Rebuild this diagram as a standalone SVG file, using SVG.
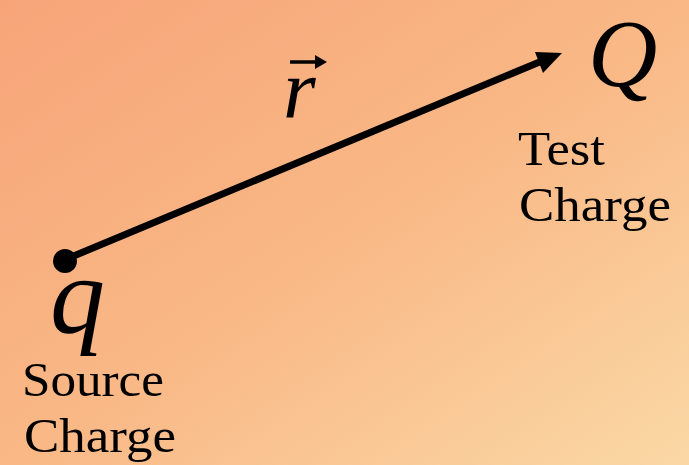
<svg xmlns="http://www.w3.org/2000/svg" width="689" height="465" viewBox="0 0 689 465">
<defs>
<linearGradient id="bg" x1="0" y1="0" x2="1" y2="1">
<stop offset="0" stop-color="#F7A479"/>
<stop offset="0.5" stop-color="#F9B886"/>
<stop offset="1" stop-color="#FAD8A5"/>
</linearGradient>
<style>
.lbl{font-family:'Liberation Serif',serif;fill:#000;font-size:48px}
.sym{font-family:'Liberation Serif',serif;font-style:italic;fill:#000}
</style>
</defs>
<rect width="689" height="465" fill="url(#bg)"/>
<g id="connectors">
<line x1="64" y1="260" x2="542" y2="61" stroke="#000" stroke-width="7"/>
<path d="M562,53 L535,52 L543,73 Z" fill="#000"/>
</g>
<g id="source">
<circle cx="65" cy="261" r="12" fill="#000"/>
<text class="sym" x="50" y="333" font-size="110">q</text>
<text class="lbl" x="22" y="396" textLength="142" lengthAdjust="spacingAndGlyphs">Source</text>
<text class="lbl" x="24" y="452" textLength="152" lengthAdjust="spacingAndGlyphs">Charge</text>
</g>
<g id="test">
<text class="sym" x="588" y="86" font-size="96">Q</text>
<text class="lbl" x="518" y="165" textLength="87" lengthAdjust="spacingAndGlyphs">Test</text>
<text class="lbl" x="519" y="221" textLength="152" lengthAdjust="spacingAndGlyphs">Charge</text>
</g>
<g id="vector-r">
<text class="sym" x="283" y="118" font-size="84">r</text>
<line x1="290" y1="62" x2="318" y2="62" stroke="#000" stroke-width="3.5"/>
<path d="M315,55 L327,62 L315,69 Z" fill="#000"/>
</g>
</svg>
